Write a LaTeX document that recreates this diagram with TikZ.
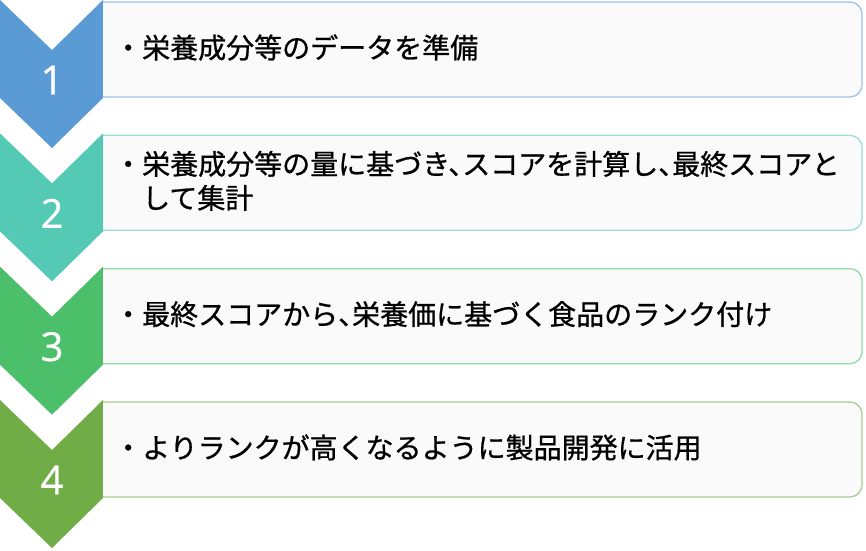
\documentclass[tikz,border=0pt]{standalone}
\usepackage{fontspec}
\setmainfont{Noto Sans CJK JP}[FakeBold=0.8]
\newfontfamily\numfont{Open Sans}[FakeBold=0.6]
\definecolor{stepblue}{RGB}{91,155,213}
\definecolor{stepteal}{RGB}{84,201,180}
\definecolor{stepgreen}{RGB}{75,191,105}
\definecolor{stepolive}{RGB}{112,173,71}
\definecolor{boxfill}{RGB}{250,250,250}
\newcommand{\tencomma}{、\kern-.5em}

\begin{document}
\begin{tikzpicture}[x=1pt,y=-1pt,
    stepbox/.style={fill=boxfill,line width=1.3pt,rounded corners=12pt},
    numlabel/.style={text=white,font=\numfont\fontsize{40}{48}\selectfont,inner sep=0pt},
    steptext/.style={anchor=west,align=left,inner sep=0pt,font=\fontsize{28}{34}\selectfont}]
    \useasboundingbox (0,0) rectangle (866,550);

    % Kroki: strzalka, ramka, numer i tekst
    \foreach \i/\col/\txt in {
        1/stepblue/{栄養成分等のデータを準備},
        2/stepteal/{栄養成分等の量に基づき\tencomma スコアを計算し\tencomma 最終スコアと\\して集計},
        3/stepgreen/{最終スコアから\tencomma 栄養価に基づく食品のランク付け},
        4/stepolive/{よりランクが高くなるように製品開発に活用}}
    {
      \pgfmathsetmacro\yc{133.33*(\i-1)}
      % strzalka w dol
      \fill[\col] (0,\yc) -- ++(52,50) -- ++(51,-50) -- ++(0,98)
        -- ++(-51,50) -- ++(-52,-50) -- cycle;
      % ramka z tekstem
      \filldraw[stepbox,draw=\col!60!white]
        (103,\yc+2) -- (862,\yc+2) -- (862,\yc+97) -- (103,\yc+97);
      \node[numlabel] (num\i) at (52,\yc+80) {\i};
      \node[steptext] (txt\i) at (142,\yc+47.5) {\llap{・}\txt};
    }

\end{tikzpicture}
\end{document}
